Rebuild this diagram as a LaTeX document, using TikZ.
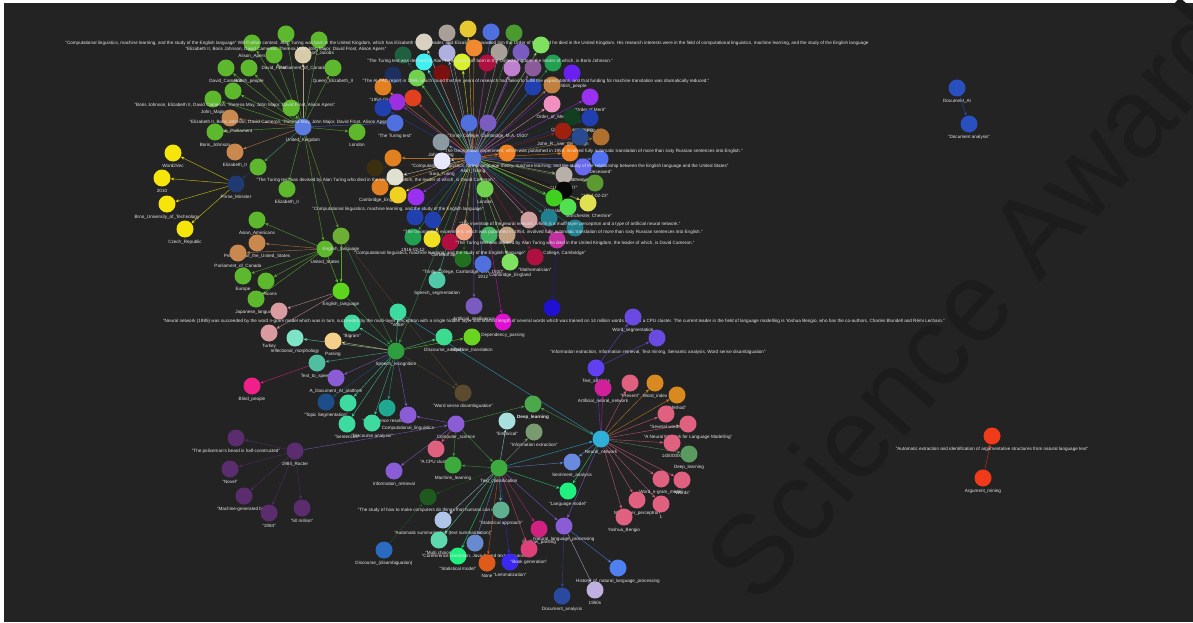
\documentclass[tikz,border=0pt]{standalone}
\usepackage{fontspec}
\setmainfont{Liberation Sans}
\usetikzlibrary{arrows.meta}
\pgfdeclarelayer{back}
\pgfdeclarelayer{edges}
\pgfsetlayers{back,edges,main}
\definecolor{bgc}{HTML}{232323}
\definecolor{wmc}{HTML}{1C1C1C}
\tikzset{
  nd/.style={circle, minimum size=17pt, inner sep=0pt, draw=none},
  lbl/.style={font=\fontsize{4.6}{5}\selectfont, text=white!90!black, inner sep=0.3pt},
  edge/.style={line width=0.45pt, draw opacity=0.75, -{Stealth[length=3.6pt,width=3pt]}},
}
\newcommand\N[5]{\definecolor{c#1}{HTML}{#4}\node[nd,fill=c#1] (#1) at (#2,#3) {};\path (#2,#3) ++(0,13) node[lbl] (l#1) {#5};}
\newcommand\Es[2]{\begin{pgfonlayer}{edges}\foreach \tg in {#2}{\draw[edge,draw=c\tg] (#1) -- (\tg);}\end{pgfonlayer}}
\begin{document}
\begin{tikzpicture}[x=1pt,y=-1pt]
\useasboundingbox (0,0) rectangle (1193,623);
\begin{pgfonlayer}{back}
\fill[white] (0,0) rectangle (1193,623);
\fill[bgc] (4,3) rectangle (1193,622);
\node[text=wmc, rotate=49, font=\fontsize{112}{112}\selectfont, inner sep=0pt] (wm) at (972,300) {Science Award};
\end{pgfonlayer}

% ---------- United Kingdom cluster ----------
\N{uk}{303}{127}{5B7BE0}{United\_Kingdom}
\N{ua}{286}{34}{5DB82E}{}
\N{ub}{319}{40}{5DB82E}{Alison\_Jacobs}
\N{uc}{303}{55}{D8CBA8}{Parliament\_of\_Canada}
\N{ud}{252}{43}{5DB82E}{Alison\_Apers}
\N{ue}{274}{55}{5DB82E}{David\_Frost}
\N{uf}{333}{68}{5DB82E}{Queen\_Elizabeth\_II}
\N{ug}{226}{68}{5DB82E}{David\_Cameron}
\N{uh}{249}{68}{5DB82E}{British\_people}
\N{ui}{233}{91}{5DB82E}{}
\N{uj}{213}{99}{5DB82E}{John\_Major}
\N{ukk}{291}{108}{5DB82E}{}
\N{ul}{230}{118}{C9884E}{European\_Parliament}
\N{um}{215}{132}{5DB82E}{Boris\_Johnson}
\N{un}{235}{152}{C9884E}{Elizabeth\_II}
\N{uo}{258}{167}{5DB82E}{}
\N{up}{287}{189}{5DB82E}{Elizabeth\_II}
\N{uq}{357}{132}{5DB82E}{London}
\N{pm}{236}{184}{1E3A70}{Prime\_Minister}
\N{ya}{173}{153}{F5E50A}{Word2Vec}
\N{yb}{162}{178}{F5E50A}{2010}
\N{yc}{167}{204}{F5E50A}{Brno\_University\_of\_Technology}
\N{yd}{185}{229}{F5E50A}{Czech\_Republic}

\node[lbl] (q1) at (467,43) {"Computational linguistics, machine learning, and the study of the English language" Will Further context: Alan Turing was born in the United Kingdom, which has Elizabeth II as its leader, and Elizabeth II awarded him the Order of Merit and he died in the United Kingdom. His research interests were in the field of computational linguistics, machine learning, and the study of the English language};
\node[lbl] (q2) at (286,49) {"Elizabeth II, Boris Johnson, David Cameron, Theresa May, John Major, David Frost, Alison Apers"};
\node[lbl] (q3) at (235,105) {"Boris Johnson, Elizabeth II, David Cameron, Theresa May, John Major, David Frost, Alison Apers"};
\node[lbl] (q4) at (290,122) {"Elizabeth II, Boris Johnson, David Cameron, Theresa May, John Major, David Frost, Alison Apers"};

% ---------- English / United States cluster ----------
\N{us}{325}{249}{5DB82E}{United\_States}
\N{ea}{341}{236}{6DAE35}{English\_language}
\N{eb}{341}{291}{5DD41E}{English\_language}
\N{ga}{257}{220}{5DB82E}{Asian\_Americans}
\N{gb}{257}{243}{C9884E}{President\_of\_the\_United\_States}
\N{gc}{238}{253}{C9884E}{Parliament\_of\_Canada}
\N{gd}{243}{276}{5DB82E}{Europe}
\N{ge}{266}{281}{5DB82E}{Americans}
\N{gf}{256}{299}{5DB82E}{Japanese\_language}
\N{pa}{279}{311}{D99AA0}{}
\N{pb}{269}{333}{D99AA0}{Turkey}

% ---------- Speech cluster ----------
\N{sr}{396}{351}{2E9E3E}{Speech\_recognition}
\N{ma}{398}{312}{3DDBA0}{"Voice"}
\N{mb}{352}{323}{3DDBA0}{"Bigram"}
\N{inf}{295}{338}{7FE3C8}{Inflectional\_morphology}
\N{par}{333}{341}{F5D08A}{Parsing}
\N{tts}{317}{363}{4FBFA0}{Text\_to\_speech}
\N{doc}{336}{378}{8A5CD6}{A\_Document\_AI\_platform}
\N{bl}{252}{386}{F0208A}{Blind\_people}
\N{dis}{444}{337}{3DDB90}{Discourse\_analysis}
\N{mtr}{472}{337}{6BD420}{Machine\_translation}
\N{dep}{503}{322}{E010D0}{Dependency\_parsing}
\N{aint}{474}{306}{7A5CC0}{Artificial\_intelligence}
\N{wsd}{463}{393}{5C4A30}{"Word sense disambiguation"}
\N{ss}{437}{280}{4FC9A8}{Speech\_segmentation}
\N{vb}{552}{308}{2010D0}{}

\node[lbl] (q5) at (554,321) {"Neural network (1985) was succeeded by the word n-gram model which was in turn, succeeded by the multi-layer perceptron with a single hidden layer and context length of several words which was trained on 14 million words and has a CPU cluster. The current leader in the field of language modelling is Yoshua Bengio, who has the co-authors, Charles Blundell and Rémi Lecharo."};

% ---------- Computational cluster ----------
\N{nv}{326}{402}{1E4E8A}{"Topic Segmentation"}
\N{mc}{348}{403}{3DDBA0}{}
\N{tl}{387}{408}{20A890}{"Coreference resolution"}
\N{cl}{408}{415}{8A5CD6}{Computational\_linguistics}
\N{se}{347}{424}{3DDBA0}{"Sentences"}
\N{cr}{372}{423}{3DDBA0}{"Discourse analysis"}
\N{cs}{456}{424}{8A5CD6}{Computer\_science}
\N{dl}{533}{404}{4BA84B}{\textbf{Deep\_learning}}
\N{emp}{507}{421}{A8E0E0}{"Empirical"}
\N{ie}{534}{432}{7A9A70}{"Information extraction"}
\N{cpu}{436}{449}{E06080}{"A CPU cluster"}
\N{ml}{453}{465}{3DAA3D}{Machine\_learning}
\N{tc}{499}{468}{3DAA3D}{Text\_classification}
\N{ir}{394}{471}{8A5CD6}{Information\_retrieval}
\N{st}{428}{497}{1E5A1E}{"The study of how to make computers do things that humans can do"}
\N{asum}{443}{520}{B0C4E8}{"Automatic summarization (text summarization)"}
\N{sta}{501}{510}{5FAF90}{"Statistical approach"}
\N{mu}{439}{540}{5FD8B0}{"Multi choice"}
\N{sm}{458}{556}{20F080}{"Statistical model"}
\N{co}{475}{543}{6A8AD0}{"Coreference resolution, Java-based text resources"}
\N{nonen}{487}{563}{E05A1A}{None}
\N{le}{510}{562}{3A2AF0}{"Lemmatization"}
\N{sh}{539}{529}{D02080}{Shallow\_parsing}
\N{bk}{529}{549}{E0407A}{"Book generation"}
\N{nlp}{564}{526}{8A5CD6}{Natural\_language\_processing}
\N{dd}{384}{550}{2A6AC0}{Discourse\_(disambiguation)}
\N{da}{562}{596}{2A4AA0}{Document\_analysis}
\N{fif}{595}{590}{C0B0E0}{1950s}
\N{hi}{618}{568}{5080F0}{History\_of\_natural\_language\_processing}

% ---------- 1984 Racter cluster ----------
\N{rc}{295}{451}{5B2D6E}{1984\_Racter}
\N{ra}{236}{438}{5B2D6E}{"The policeman's beard is half-constructed"}
\N{rb}{230}{469}{5B2D6E}{"Novel"}
\N{rd}{244}{496}{5B2D6E}{"Machine-generated book"}
\N{re}{269}{513}{5B2D6E}{"1984"}
\N{rf}{302}{508}{5B2D6E}{"50 million"}

% ---------- Neural network cluster ----------
\N{nn}{601}{439}{30B0D8}{Neural\_network}
\N{ta}{596}{368}{6040F0}{Text\_analysis}
\N{wa}{633}{317}{6A4AE0}{Word\_segmentation}
\N{wb}{657}{338}{6A4AE0}{}
\N{an}{603}{388}{D0209A}{Artificial\_neural\_network}
\N{pr}{630}{383}{E06080}{"Present"}
\N{wi}{655}{383}{D88A20}{Word\_index}
\N{me}{677}{395}{D88A20}{"Method"}
\N{sv}{666}{414}{E06080}{"Several words"}
\N{pp}{688}{424}{E06080}{"A Neural Network for Language Modelling"}
\N{fm}{672}{443}{E06080}{14000000}
\N{dlb}{689}{454}{5A9A60}{Deep\_learning}
\N{sa}{572}{462}{6A8AE0}{Sentiment\_analysis}
\N{lm}{568}{491}{20F080}{"Language model"}
\N{wn}{661}{479}{E06080}{Word\_n-gram\_model}
\N{wo}{682}{480}{E06080}{"Words"}
\N{mp}{637}{500}{E06080}{Multi-layer\_perceptron}
\N{one}{661}{504}{E06080}{1}
\N{ybe}{624}{517}{E06080}{Yoshua\_Bengio}
\node[lbl] (q6) at (658,352) {"Information extraction, Information retrieval, Text mining, Semantic analysis, Word sense disambiguation"};

% ---------- Isolated pairs ----------
\N{dai}{957}{88}{2A50C0}{Document\_AI}
\N{dan}{969}{124}{2A50C0}{"Document analysis"}
\N{amt}{992}{436}{F03A1A}{"Automatic extraction and identification of argumentative structures from natural language text"}
\N{am}{983}{478}{F03A1A}{Argument\_mining}

% ---------- Alan Turing cluster ----------
\N{ta1}{424}{42}{D8D0C0}{}
\N{ta2}{447}{33}{A8A098}{}
\N{ta3}{468}{29}{E8C830}{}
\N{ta4}{491}{32}{5070E0}{}
\N{ta5}{514}{33}{4A9A30}{}
\N{ta6}{447}{53}{B0B0E0}{}
\N{ta7}{474}{48}{F08A30}{}
\N{ta8}{499}{52}{A8A098}{}
\N{ta9}{521}{52}{7A5CC0}{}
\N{ta10}{541}{45}{80E060}{}
\N{ta11}{403}{55}{1E6040}{}
\N{ta12}{424}{62}{40F0F0}{}
\N{ta13}{462}{62}{D8F030}{}
\N{ta14}{487}{63}{B01040}{}
\N{ta15}{512}{68}{C080D0}{}
\N{ta16}{533}{68}{8A5A9A}{}
\N{ta17}{553}{63}{20A050}{}
\N{ta18}{572}{73}{6A20F0}{British\_people}
\N{ta19}{393}{75}{1E3060}{}
\N{ta20}{417}{78}{70D050}{}
\N{ta21}{442}{73}{7A1010}{}
\N{ta22}{533}{87}{2040B0}{}
\N{ta23}{552}{85}{C08040}{}
\N{ta24}{383}{87}{E08020}{"1954-02-27"}
\N{ta25}{413}{98}{E04020}{}
\N{ta26}{397}{102}{9A30E0}{}
\N{ta27}{590}{97}{9A30F0}{"Order of Merit"}
\N{ta28}{552}{104}{F090C0}{Order\_of\_Merit}
\N{ta29}{572}{117}{104020}{Question\_answering}
\N{ta30}{590}{118}{2040B0}{"1954-02-27"}
\N{ta31}{563}{131}{A02010}{John\_R.\_van\_der\_Burgh}
\N{ta32}{580}{137}{2A4A90}{}
\N{ta33}{601}{137}{B07030}{}
\N{ta34}{469}{123}{5070E0}{}
\N{ta35}{488}{123}{7A5CC0}{"Trinity College, Cambridge, M.A. 1920"}
\N{ta36}{441}{142}{8A9AA0}{John\_Turing}
\N{ta37}{393}{158}{E08020}{}
\N{ta38}{442}{161}{E8E8FF}{Sara\_Turing}
\N{ta39}{507}{153}{F08020}{}
\N{ta40}{570}{153}{F08020}{}
\N{ta41}{600}{159}{5070F0}{"Deceased"}
\N{ta42}{583}{167}{6A6AF0}{"Mathematician"}
\N{ta43}{564}{175}{B8B0A8}{"1954-06-07"}
\N{ta44}{595}{183}{5A9A30}{"1954-02-23"}
\N{ta45}{564}{190}{080808}{}
\N{ta46}{554}{198}{40D020}{Wilmslow}
\N{ta47}{588}{203}{E0E050}{"Manchester, Cheshire"}
\N{ta48}{568}{207}{50E050}{}
\N{ta49}{485}{189}{70D050}{London}
\N{ta50}{383}{108}{2040B0}{}
\N{ta51}{395}{123}{5070E0}{"The Turing test"}
\N{ta52}{375}{168}{3A3010}{}
\N{ta53}{395}{177}{E0E0D0}{}
\N{ta54}{380}{187}{E08020}{Cambridge\_England}
\N{ta55}{398}{195}{F0D020}{}
\N{ta56}{416}{197}{9A30F0}{}
\N{ta57}{415}{217}{2040B0}{}
\N{ta58}{433}{220}{2040B0}{}
\N{ta59}{413}{237}{20A050}{1916-02-12}
\N{ta60}{432}{239}{F0E020}{}
\N{ta61}{464}{232}{F0A080}{}
\N{ta62}{450}{242}{B01040}{"Cerebral apoplexy"}
\N{ta63}{489}{235}{40B060}{}
\N{ta64}{507}{235}{C0A080}{}
\N{ta65}{529}{220}{D0A0A0}{}
\N{ta66}{549}{218}{208090}{}
\N{ta67}{575}{228}{208090}{}
\N{ta68}{557}{240}{C030A0}{"Trinity College, Cambridge"}
\N{ta69}{463}{259}{207020}{"Trinity College, Cambridge, M.A. 1920"}
\N{ta70}{510}{262}{80E060}{Cambridge\_England}
\N{ta71}{535}{257}{B01040}{"Mathematician"}
\N{ta72}{483}{264}{5070E0}{1912}
\N{turing}{473}{158}{5B7BE0}{Alan\_Turing}

\node[lbl] (qa) at (490,61) {"The Turing test was devised by Alan Turing and was born in the United Kingdom, the leader of which, is Boris Johnson."};
\node[lbl] (qb) at (536,81) {"The ALPAC report in 1966, which found that ten years of research had failed to fulfill the expectations, and that funding for machine translation was dramatically reduced."};
\node[lbl] (qc) at (593,151) {"The Georgetown experiment, which was published in 1954, involved fully automatic translation of more than sixty Russian sentences into English."};
\node[lbl] (qd) at (570,166) {"Computational linguistics, formal language theory, machine learning, and the study of the relationship between the English language and the United States"};
\node[lbl] (qe) at (376,180) {"The Turing test was devised by Alan Turing who died in the United Kingdom, the leader of which, is David Cameron."};
\node[lbl] (qf) at (398,209) {"Computational linguistics, machine learning, and the study of the English language"};
\node[lbl] (qg) at (570,224) {"The invention of the neural network, which is a multi-layer perceptron and a type of artificial neural network."};
\node[lbl] (qh) at (553,232) {"The Georgetown experiment, which was published in 1954, involved fully automatic translation of more than sixty Russian sentences into English."};
\node[lbl] (qi) at (575,243) {"The Turing test was devised by Alan Turing who died in the United Kingdom, the leader of which, is David Cameron."};
\node[lbl] (qj) at (440,253) {"Computational linguistics, machine learning, and the study of the English language"};

% ---------- edges ----------
\Es{uk}{ua,ub,uc,ud,ue,uf,ug,uh,ui,uj,ukk,ul,um,un,uo,up,uq,pm,us,ea,ta51}
\Es{pm}{ya,yb,yc,yd}
\Es{us}{ga,gb,gc,gd,ge,gf,eb}
\Es{ea}{eb,wsd,sr}
\Es{eb}{pa,pb,sr}
\Es{turing}{ta1,ta2,ta3,ta4,ta5,ta6,ta7,ta8,ta9,ta10,ta11,ta12,ta13,ta14,ta15,ta16,ta17,ta18,ta19,ta20,ta21,ta22,ta23,ta24,ta25,ta26,ta27,ta28,ta29,ta30,ta31,ta32,ta33,ta34,ta35,ta36,ta37,ta38,ta39,ta40,ta41,ta42,ta43,ta44,ta45,ta46,ta47,ta48,ta49,ta50,ta52,ta53,ta54,ta55,ta56,ta57,ta58,ta59,ta60,ta61,ta62,ta63,ta64,ta65,ta66,ta67,ta68,ta69,ta70,ta71,ta72,ss,aint,sr}
\Es{ta68}{vb}
\Es{ta63}{dep}
\Es{sr}{ma,mb,inf,par,tts,doc,dis,mtr,wsd,cl,tl,mc,nv,se,cr}
\Es{ma}{nn}
\Es{tts}{bl}
\Es{cs}{dl,cpu,ml,ir,cl,tc}
\Es{tc}{ml,st,asum,sta,mu,sm,co,nonen,le,sh,bk,nlp,lm,sa,nn,emp,ie}
\Es{nn}{dl,ta,an,pr,wi,me,sv,pp,fm,dlb,sa,wn,wo,mp,one,ybe,nlp,lm}
\Es{ta}{wa,wb}
\Es{nlp}{da,fif,hi}
\Es{rc}{ra,rb,rd,re,rf,cs}
\Es{dd}{st}
\Es{dai}{dan}
\Es{am}{amt}
\end{tikzpicture}
\end{document}
